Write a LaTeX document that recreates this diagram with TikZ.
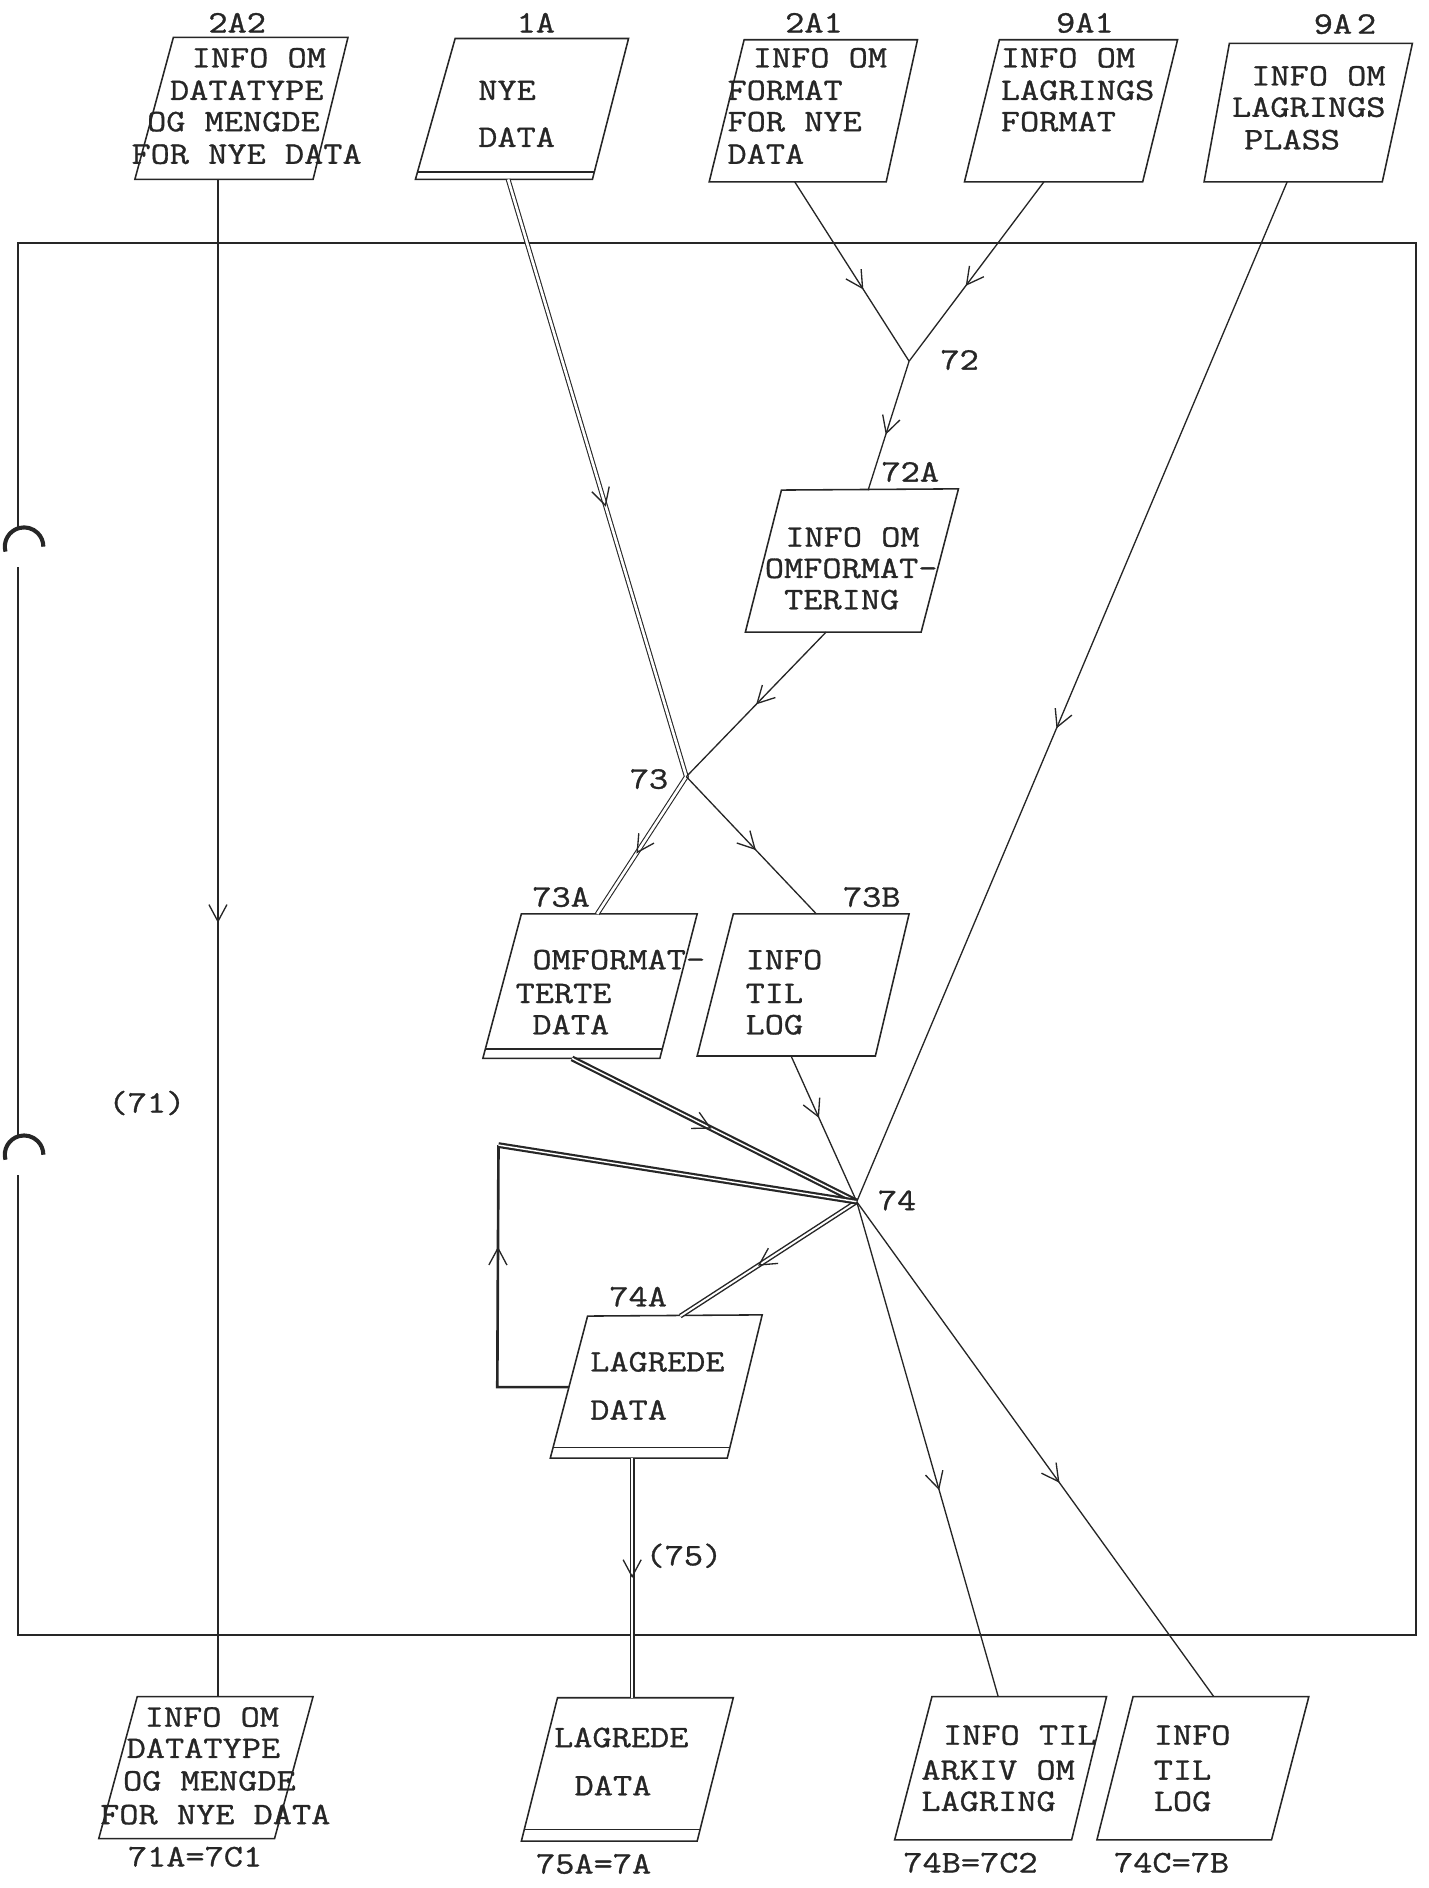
\documentclass[tikz,border=0pt]{standalone}
\usepackage{fontspec}
\setmonofont{Latin Modern Mono}[FakeStretch=1.19, FakeBold=1]
\usetikzlibrary{arrows.meta,decorations.markings}
\definecolor{inkc}{gray}{0.15}
\tikzset{
  frameline/.style={draw=inkc, line width=2.1pt},
  boxline/.style={draw=inkc, line width=1.3pt, line join=miter},
  conn/.style={draw=inkc, line width=1.1pt},
  dbl/.style={draw=inkc, double=white, double distance=2.2pt, line width=0.9pt},
  dblmed/.style={draw=inkc, double=white, double distance=1.6pt, line width=1.2pt},
  dblheavy/.style={draw=inkc, double=white, double distance=1.2pt, line width=1.8pt},
  loopline/.style={draw=inkc, line width=2.2pt, line join=miter},
  arr/.style={decoration={markings, mark=at position #1 with {\arrow[inkc, line width=1.1pt]{Straight Barb[length=14pt,width=15pt]}}}, postaction={decorate}},
  txt/.style={font=\ttfamily\fontsize{26}{26}\selectfont, text=inkc, inner sep=0pt, anchor=base west},
  lbl/.style={font=\ttfamily\fontsize{26}{26}\selectfont, text=inkc, inner sep=0pt, anchor=base},
  hole/.style={draw=inkc, line width=3.4pt},
}
\begin{document}
\begin{tikzpicture}[x=1pt,y=-1pt]
\useasboundingbox (0,0) rectangle (1186,1568);

% ---------- frame ----------
\draw[frameline] (15,438) -- (15,202) -- (1176,202) -- (1176,1358) -- (15,1358) -- (15,976);
\draw[frameline] (15,471) -- (15,943);
\draw[hole] (20,454) ++(165:16) arc[start angle=165, end angle=360, radius=16];
\draw[hole] (20,959) ++(165:16) arc[start angle=165, end angle=360, radius=16];

% ---------- junctions ----------
\coordinate (j72) at (755,300);
\coordinate (j73) at (570,645);
\coordinate (j74) at (711.5,998);
\coordinate (lp1) at (413,1152);
\coordinate (lp2) at (414,951);
\node[lbl] (l72) at (797,307) {72};
\node[lbl] (l73) at (539,655) {73};
\node[lbl] (l74) at (745,1005) {74};
\node[lbl] (l75) at (568,1300) {(75)};
\node[lbl] (l71) at (122,924) {(71)};

% ---------- 2A2 ----------
\draw[boxline] (144,31) -- (289,31) -- (260,149) -- (112,149) -- cycle;
\node[lbl] (l2A2) at (197,27) {2A2};
\node[txt] (t2A2a) at (159,56) {INFO OM};
\node[txt] (t2A2b) at (141,83) {DATATYPE};
\node[txt] (t2A2c) at (122,109) {OG MENGDE};
\node[txt] (t2A2d) at (109,136) {FOR NYE DATA};
\coordinate (o2A2) at (181,149);

% ---------- 1A ----------
\draw[boxline] (378,32) -- (522,32) -- (492,149) -- (345,149) -- cycle;
\draw[boxline] (346.5,143) -- (493.5,143);
\node[lbl] (l1A) at (445,27) {1A};
\node[txt] (t1Aa) at (397,83) {NYE};
\node[txt] (t1Ab) at (397,122) {DATA};
\coordinate (o1A) at (422,149);

% ---------- 2A1 ----------
\draw[boxline] (618,33) -- (762,33) -- (736,151) -- (589,151) -- cycle;
\node[lbl] (l2A1) at (676,27) {2A1};
\node[txt] (t2A1a) at (625,56) {INFO OM};
\node[txt] (t2A1b) at (604,83) {FORMAT};
\node[txt] (t2A1c) at (604,109) {FOR NYE};
\node[txt] (t2A1d) at (604,136) {DATA};
\coordinate (o2A1) at (660,151);

% ---------- 9A1 ----------
\draw[boxline] (830,33) -- (978,33) -- (949,151) -- (801,151) -- cycle;
\node[lbl] (l9A1) at (901,27) {9A1};
\node[txt] (t9A1a) at (831,56) {INFO OM};
\node[txt] (t9A1b) at (831,83) {LAGRINGS};
\node[txt] (t9A1c) at (831,109) {FORMAT};
\coordinate (o9A1) at (867,151);

% ---------- 9A2 ----------
\draw[boxline] (1021,36) -- (1173,36) -- (1148,151) -- (1000,151) -- cycle;
\node[lbl] (l9A2) at (1117,28) {9A\kern4pt 2};
\node[txt] (t9A2a) at (1039,71) {INFO OM};
\node[txt] (t9A2b) at (1023,97) {LAGRINGS};
\node[txt] (t9A2c) at (1033,124) {PLASS};
\coordinate (o9A2) at (1069,151);

% ---------- 72A ----------
\draw[boxline] (649,407) -- (796,406) -- (765,525) -- (619,525) -- cycle;
\node[lbl] (l72A) at (756,400) {72A};
\node[txt] (t72Aa) at (652,454) {INFO OM};
\node[txt] (t72Ab) at (635,480) {OMFORMAT-};
\node[txt] (t72Ac) at (651,506) {TERING};
\coordinate (i72A) at (721,407);
\coordinate (o72A) at (686,525);

% ---------- 73A ----------
\draw[boxline] (433,759) -- (579,759) -- (548,879) -- (401,879) -- cycle;
\draw[boxline] (403,871) -- (550,871);
\node[lbl] (l73A) at (466,753) {73A};
\node[txt] (t73Aa) at (442,805) {OMFORMAT-};
\node[txt] (t73Ab) at (428,833) {TERTE};
\node[txt] (t73Ac) at (442,859) {DATA};
\coordinate (i73A) at (496,759);
\coordinate (o73A) at (475,879);

% ---------- 73B ----------
\draw[boxline] (609,759) -- (755,759) -- (727,877) -- (579,877) -- cycle;
\node[lbl] (l73B) at (724,753) {73B};
\node[txt] (t73Ba) at (619,805) {INFO};
\node[txt] (t73Bb) at (619,833) {TIL};
\node[txt] (t73Bc) at (619,859) {LOG};
\coordinate (i73B) at (678,759);
\coordinate (o73B) at (657,877);

% ---------- 74A ----------
\draw[boxline] (488,1093) -- (633,1092) -- (604,1211) -- (457,1211) -- cycle;
\draw[boxline] (459.5,1202) -- (606.2,1202);
\node[lbl] (l74A) at (530,1085) {74A};
\node[txt] (t74Aa) at (490,1139) {LAGREDE};
\node[txt] (t74Ab) at (490,1179) {DATA};
\coordinate (i74A) at (565,1093);
\coordinate (o74A) at (525,1211);
\coordinate (r74A) at (472.5,1152);

% ---------- 71A ----------
\draw[boxline] (114,1409) -- (260,1409) -- (228,1527) -- (82,1527) -- cycle;
\node[lbl] (l71A) at (162,1550) {71A=7C1};
\node[txt] (t71Aa) at (120,1434) {INFO OM};
\node[txt] (t71Ab) at (105,1460) {DATATYPE};
\node[txt] (t71Ac) at (102,1487) {OG MENGDE};
\node[txt] (t71Ad) at (83,1515) {FOR NYE DATA};
\coordinate (i71A) at (181,1409);

% ---------- 75A ----------
\draw[boxline] (463,1410) -- (609,1410) -- (579,1529) -- (433,1529) -- cycle;
\draw[boxline] (435.5,1519.5) -- (581.5,1519.5);
\node[lbl] (l75A) at (493,1556) {75A=7A};
\node[txt] (t75Aa) at (460,1451) {LAGREDE};
\node[txt] (t75Ab) at (477,1491) {DATA};
\coordinate (i75A) at (525,1410);

% ---------- 74B ----------
\draw[boxline] (774,1409) -- (919,1409) -- (890,1528) -- (743,1528) -- cycle;
\node[lbl] (l74B) at (806,1555) {74B=7C2};
\node[txt] (t74Ba) at (783,1449) {INFO TIL};
\node[txt] (t74Bb) at (765,1478) {ARKIV OM};
\node[txt] (t74Bc) at (765,1504) {LAGRING};
\coordinate (i74B) at (829,1409);

% ---------- 74C ----------
\draw[boxline] (941,1409) -- (1087,1409) -- (1056,1528) -- (911,1528) -- cycle;
\node[lbl] (l74C) at (973,1555) {74C=7B};
\node[txt] (t74Ca) at (958,1449) {INFO};
\node[txt] (t74Cb) at (958,1478) {TIL};
\node[txt] (t74Cc) at (958,1504) {LOG};
\coordinate (i74C) at (1008,1409);

% ---------- connectors ----------
\draw[conn, arr=0.49] (o2A2) -- (i71A);
\draw[dbl, line join=miter] (o1A) -- (j73) -- (i73A);
\path[arr=0.548] (o1A) -- (j73);
\path[arr=0.56] (j73) -- (i73A);
\draw[conn, arr=0.6] (o2A1) -- (j72);
\draw[conn, arr=0.58] (o9A1) -- (j72);
\draw[conn, arr=0.57] (j72) -- (i72A);
\draw[conn, arr=0.5] (o72A) -- (j73);
\draw[conn, arr=0.535] (j73) -- (i73B);
\draw[dblheavy] (o73A) -- (j74);
\path[arr=0.49] (o73A) -- (j74);
\draw[conn, arr=0.425] (o73B) -- (j74);
\draw[conn, arr=0.536] (o9A2) -- (j74);
\draw[dblmed] (j74) -- (i74A);
\path[arr=0.56] (j74) -- (i74A);
\draw[loopline] (r74A) -- (lp1) -- (lp2);
\path[arr=0.58] (lp1) -- (lp2);
\draw[dblheavy] (lp2) -- (j74);
\draw[dbl] (o74A) -- (i75A);
\path[arr=0.5] (o74A) -- (i75A);
\draw[conn, arr=0.583] (j74) -- (i74B);
\draw[conn, arr=0.568] (j74) -- (i74C);
\end{tikzpicture}
\end{document}
